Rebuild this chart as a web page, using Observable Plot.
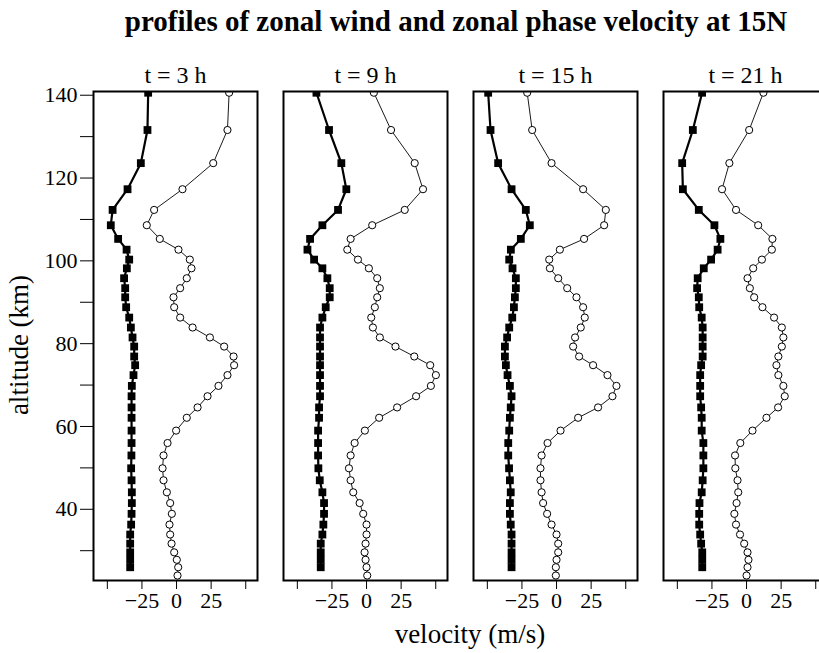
<!DOCTYPE html>
<html>
<head>
<meta charset="utf-8">
<script src="https://cdn.jsdelivr.net/npm/d3@7"></script>
<script src="https://cdn.jsdelivr.net/npm/@observablehq/plot@0.6"></script>
<style>
  html, body { margin: 0; padding: 0; overflow: hidden; background: white; }
  #wrap { position: relative; width: 819px; height: 653px; overflow: hidden; }
  #title { position: absolute; left: 0; top: 7px; width: 912px; text-align: center;
           font: bold 29px "Liberation Serif", serif; line-height: 29px; color: black; white-space: nowrap; }
  #chart { position: absolute; left: 0; top: 46px; }
  #chart svg { max-width: none !important; }
  #chart [aria-label^="fx-axis"] text { font-size: 24px; }
  .lab { position: absolute; font: 27px "Liberation Serif", serif; color: black; white-space: nowrap; }
  #ylab { left: 19px; top: 345px; transform: translate(-50%, -50%) rotate(-90deg); }
  #xlab { left: 470px; top: 634px; transform: translate(-50%, -50%); }
</style>
</head>
<body>
<div id="wrap">
  <div id="title">profiles of zonal wind and zonal phase velocity at 15N</div>
  <div id="chart"></div>
  <div class="lab" id="ylab">altitude (km)</div>
  <div class="lab" id="xlab">velocity (m/s)</div>
</div>
<script>
// times of the four panels (h)
const times = [3, 9, 15, 21];

// model altitude levels (km), bottom to top
const altitude = [24.0, 26.0, 27.8, 29.6, 31.7, 33.9, 36.3, 38.9, 41.5, 44.1,
  47.0, 49.9, 53.0, 56.0, 59.0, 62.1, 64.6, 67.3, 69.8, 72.4,
  74.8, 76.9, 79.3, 81.5, 83.9, 86.3, 88.8, 91.2, 93.4, 95.8,
  98.2, 100.3, 102.7, 105.3, 108.6, 112.3, 117.3, 123.6, 131.6, 140.6];

// zonal wind (filled squares), m/s
const wind3 = [null, -33.5, -33.5, -33.5, -33.5, -33.5, -32.8, -32.5, -32.3, -32.3,
  -32.5, -32.8, -32.6, -32.5, -32.5, -32.5, -32.5, -32.5, -32.3, -31.1,
  -29.9, -30.6, -30.6, -31.8, -33.0, -34.2, -36.4, -37.1, -37.1, -37.9,
  -35.9, -34.2, -36.1, -42.2, -47.5, -46.2, -35.4, -25.8, -21.0, -20.5];
const wind9 = [null, -33.1, -33.1, -33.1, -33.1, -31.9, -31.2, -30.7, -30.7, -31.9,
  -33.8, -34.8, -35.0, -35.0, -35.0, -34.3, -34.3, -33.6, -33.6, -33.6,
  -33.6, -33.6, -33.6, -33.6, -33.6, -31.9, -29.5, -26.6, -26.6, -28.3,
  -31.9, -37.9, -42.7, -40.8, -31.9, -20.6, -14.6, -18.2, -27.1, -36.2];
const wind15 = [null, -32.5, -32.5, -32.5, -32.5, -32.5, -33.1, -33.7, -33.7, -33.1,
  -33.7, -34.3, -34.9, -34.9, -34.2, -33.7, -33.1, -32.5, -33.7, -35.4,
  -36.6, -37.3, -37.3, -35.7, -34.2, -32.0, -30.8, -30.1, -29.4, -29.4,
  -31.8, -34.2, -33.0, -25.8, -19.3, -22.2, -32.5, -42.2, -47.7, -49.4];
const wind21 = [null, -32.0, -32.0, -32.0, -32.8, -33.5, -34.2, -34.2, -34.0, -32.4,
  -31.7, -31.2, -31.2, -31.2, -32.4, -32.4, -32.8, -33.5, -33.5, -33.5,
  -32.8, -31.7, -31.7, -31.7, -31.7, -32.4, -34.2, -34.5, -35.7, -35.3,
  -30.9, -25.6, -20.9, -18.9, -23.2, -34.5, -46.0, -46.5, -38.8, -32.1];

// zonal phase velocity (open circles), m/s
const phase3 = [0.7, 1.2, 0.2, -1.7, -3.6, -4.6, -5.1, -3.4, -4.6, -7.0,
  -9.4, -10.1, -9.4, -6.5, -0.3, 7.4, 15.2, 22.4, 30.3, 36.8,
  41.6, 41.2, 34.4, 24.1, 11.6, 2.6, -1.7, -2.2, 2.6, 7.4,
  10.8, 9.6, 1.4, -12.1, -21.5, -16.2, 4.3, 26.5, 36.8, 38.0];
const phase9 = [0.5, 0.0, -0.7, -1.4, -0.7, 0.0, 0.0, -2.4, -5.0, -9.6,
  -11.5, -12.7, -11.5, -8.6, -1.2, 9.1, 22.1, 35.8, 46.5, 50.1,
  46.0, 34.5, 20.9, 9.6, 4.6, 3.4, 6.0, 7.7, 9.6, 7.7,
  1.7, -6.2, -13.9, -11.5, 4.1, 27.6, 40.8, 34.8, 17.7, 5.3];
const phase15 = [-0.5, -0.5, 0.0, 1.2, 1.2, 0.0, -3.6, -6.8, -9.7, -10.8,
  -11.6, -11.6, -10.8, -6.5, 2.9, 15.6, 30.0, 40.4, 43.3, 36.8,
  26.4, 16.3, 12.0, 13.4, 17.5, 20.4, 19.2, 14.4, 7.7, 1.2,
  -4.8, -5.3, 2.4, 19.9, 34.4, 35.6, 19.2, -3.6, -17.6, -21.2];
const phase21 = [0.0, 0.7, 1.4, 0.7, -1.7, -4.7, -7.6, -8.8, -7.2, -6.0,
  -6.5, -8.1, -8.3, -4.5, 4.3, 14.4, 22.8, 27.6, 26.6, 23.0,
  21.6, 23.0, 25.5, 26.6, 25.5, 19.9, 11.5, 5.5, 2.4, 0.7,
  4.8, 11.1, 18.3, 18.7, 8.4, -7.6, -17.7, -12.4, 1.9, 12.2];

// x tick values and the ones that carry labels
const xTicks = [-50, -25, 0, 25, 50];
const xLabelled = [-25, 0, 25];
const yTicks = [30, 40, 50, 60, 70, 80, 90, 100, 110, 120, 130, 140];
const yLabelled = [40, 60, 80, 100, 120, 140];

const windSeries = [wind3, wind9, wind15, wind21];
const phaseSeries = [phase3, phase9, phase15, phase21];

const rows = [];
times.forEach((t, k) => {
  altitude.forEach((a, i) => {
    if (windSeries[k][i] != null) rows.push({t, alt: a, v: windSeries[k][i], s: "wind"});
  });
  altitude.forEach((a, i) => {
    if (phaseSeries[k][i] != null) rows.push({t, alt: a, v: phaseSeries[k][i], s: "phase"});
  });
});

const isWind = d => d.s === "wind";
const isPhase = d => d.s === "phase";

const chart = Plot.plot({
  width: 830,
  height: 607,
  marginTop: 45,
  marginBottom: 73,
  marginLeft: 92,
  marginRight: 1,
  style: {fontFamily: "'Liberation Serif', serif", fontSize: "22px", color: "black", background: "white"},
  facet: {data: rows, x: "t", marginTop: 45, marginBottom: 73},
  fx: {domain: times, paddingInner: 0.136, paddingOuter: 0, axis: "top", label: null,
       tickSize: 0, tickPadding: 9, tickFormat: t => `t = ${t} h`},
  x: {domain: [-60, 58.5], ticks: xTicks, label: null, tickSize: 9, tickPadding: 3,
      tickFormat: d => xLabelled.includes(d) ? (d < 0 ? "\u2212" + Math.abs(d) : String(d)) : ""},
  y: {domain: [22.8, 140.9], ticks: yTicks, label: null, tickSize: 13, tickPadding: 3,
      tickFormat: d => yLabelled.includes(d) ? String(d) : ""},
  marks: [
    Plot.line(rows, {filter: isPhase, x: "v", y: "alt", stroke: "black", strokeWidth: 0.9, clip: true}),
    Plot.dot(rows, {filter: isPhase, x: "v", y: "alt", r: 3.6, stroke: "black", strokeWidth: 1, fill: "white", clip: true}),
    Plot.line(rows, {filter: isWind, x: "v", y: "alt", stroke: "black", strokeWidth: 2.2, clip: true}),
    Plot.dot(rows, {filter: isWind, x: "v", y: "alt", symbol: "square", r: 4.4, fill: "black", stroke: "none", clip: true}),
    Plot.frame({stroke: "black", strokeWidth: 2})
  ]
});
document.getElementById("chart").appendChild(chart);
</script>
</body>
</html>
